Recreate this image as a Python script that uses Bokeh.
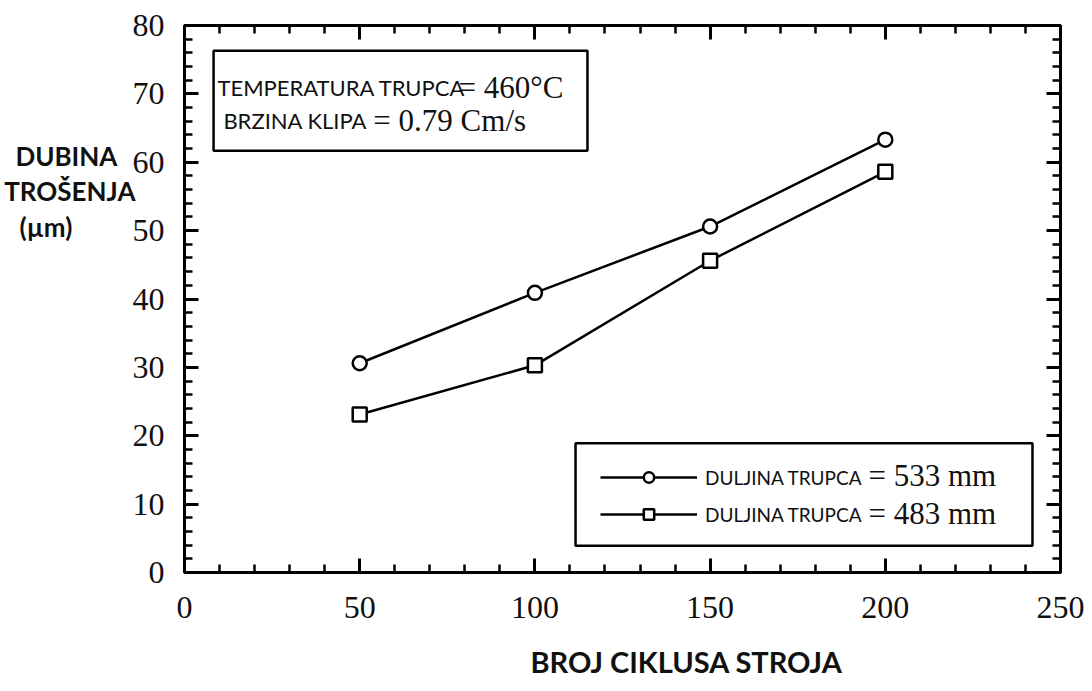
from bokeh.plotting import figure
from bokeh.models import (LinearAxis, SingleIntervalTicker, Range1d, BoxAnnotation, Label,
                          Legend, LegendItem, Title)
from bokeh.embed import file_html
from bokeh.resources import INLINE

# data
cycles = [50, 100, 150, 200]
depth_533 = [30.6, 40.9, 50.6, 63.3]
depth_483 = [23.1, 30.3, 45.6, 58.6]

SERIF = "Liberation Serif"
SANS = "Lato"
INK = "#111111"
NB = "\u00a0"

p = figure(frame_width=876, frame_height=547, min_border_left=184, min_border_right=24,
           min_border_top=25, min_border_bottom=111,
           x_range=Range1d(0, 250), y_range=Range1d(0, 80),
           output_backend="svg", toolbar_location=None, x_axis_location=None,
           y_axis_location=None)
p.xgrid.visible = False
p.ygrid.visible = False
p.outline_line_color = "black"
p.outline_line_width = 3
p.background_fill_color = "white"
p.border_fill_color = "white"


def style(ax, show_labels):
    ax.axis_line_width = 3
    ax.major_tick_in = 14
    ax.major_tick_out = 0
    ax.minor_tick_in = 8
    ax.minor_tick_out = 0
    ax.major_tick_line_width = 3
    ax.minor_tick_line_width = 2.5
    ax.major_label_text_font = SERIF
    ax.major_label_text_font_size = "32px"
    ax.major_label_text_color = INK
    if not show_labels:
        ax.major_label_text_alpha = 0
        ax.major_label_text_font_size = "1px"


xb = LinearAxis(ticker=SingleIntervalTicker(interval=50, num_minor_ticks=5))
style(xb, True)
xb.major_label_standoff = 24
p.add_layout(xb, "below")

xt = LinearAxis(ticker=SingleIntervalTicker(interval=50, num_minor_ticks=5))
style(xt, False)
p.add_layout(xt, "above")

yl = LinearAxis(ticker=SingleIntervalTicker(interval=10, num_minor_ticks=5))
style(yl, True)
yl.major_label_standoff = 20
yl.axis_label = ("DUBINA" + NB * 3 + "\nTROŠENJA\n(µm)" + NB * 10 + "\n\n\n\n\n\n")
yl.axis_label_orientation = "horizontal"
yl.axis_label_standoff = -6
yl.axis_label_text_font = SANS
yl.axis_label_text_font_style = "bold"
yl.axis_label_text_font_size = "26px"
yl.axis_label_text_line_height = 1.12
yl.axis_label_text_align = "left"
yl.axis_label_text_color = INK
p.add_layout(yl, "left")

yr = LinearAxis(ticker=SingleIntervalTicker(interval=10, num_minor_ticks=5))
style(yr, False)
p.add_layout(yr, "right")

# x title
p.add_layout(Title(text="BROJ CIKLUSA STROJA", align="left", offset=346, standoff=42,
                   text_font=SANS, text_font_style="bold", text_font_size="29px",
                   text_color=INK), "below")

# series
l1 = p.line(cycles, depth_533, line_color="black", line_width=2.5)
s1 = p.scatter(cycles, depth_533, marker="circle", size=14, fill_color="white",
               line_color="black", line_width=2.5)
l2 = p.line(cycles, depth_483, line_color="black", line_width=2.5)
s2 = p.scatter(cycles, depth_483, marker="square", size=14, fill_color="white",
               line_color="black", line_width=2.5)

# info box
p.add_layout(BoxAnnotation(left=8.3, right=115.0, top=76.3, bottom=61.7,
                           fill_alpha=0, line_color="black", line_alpha=1, line_width=2.5))
p.add_layout(Label(x=9.4, y=70.9, text="TEMPERATURA TRUPCA", text_font=SANS,
                   text_font_size="22px", text_baseline="middle", text_color=INK))
p.add_layout(Label(x=78.2, y=70.9, text="= 460°C", text_font=SERIF,
                   text_font_size="31px", text_baseline="middle", text_color=INK))
p.add_layout(Label(x=11.1, y=66.1, text="BRZINA KLIPA", text_font=SANS,
                   text_font_size="22px", text_baseline="middle", text_color=INK))
p.add_layout(Label(x=53.9, y=66.1, text="= 0.79 Cm/s", text_font=SERIF,
                   text_font_size="31px", text_baseline="middle", text_color=INK))

# legend box
p.add_layout(BoxAnnotation(left=111.6, right=242.0, top=18.9, bottom=3.9,
                           fill_alpha=0, line_color="black", line_alpha=1, line_width=2.5))
legend = Legend(items=[LegendItem(label="DULJINA TRUPCA", renderers=[l1, s1]),
                       LegendItem(label="DULJINA TRUPCA", renderers=[l2, s2])],
                location=(416, 45), glyph_width=97, glyph_height=26, label_height=26,
                label_standoff=8, spacing=11, padding=0, margin=0,
                border_line_alpha=0, background_fill_alpha=0,
                label_text_font=SANS, label_text_font_size="19px",
                label_text_color=INK)
p.add_layout(legend, "center")
p.add_layout(Label(x=195.2, y=14.2, text="= 533 mm", text_font=SERIF,
                   text_font_size="31px", text_baseline="middle", text_color=INK))
p.add_layout(Label(x=195.2, y=8.7, text="= 483 mm", text_font=SERIF,
                   text_font_size="31px", text_baseline="middle", text_color=INK))

open("out.html", "w").write(file_html(p, INLINE))
